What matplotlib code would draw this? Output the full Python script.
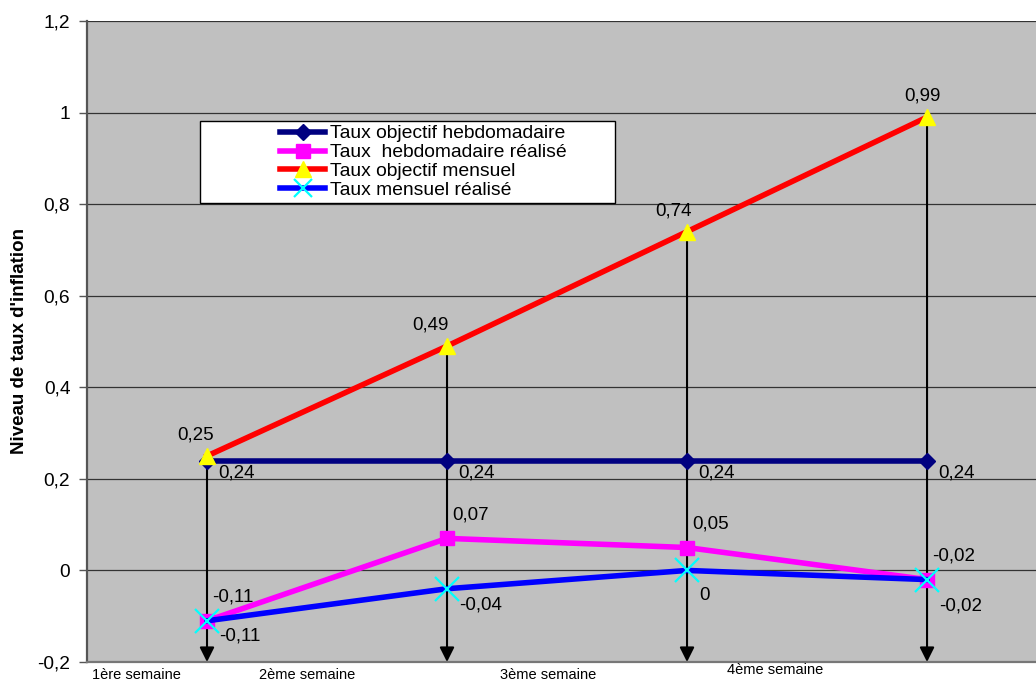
import matplotlib
matplotlib.use("Agg")
import matplotlib.pyplot as plt
from matplotlib.lines import Line2D
from matplotlib.patches import Rectangle
from matplotlib.ticker import FuncFormatter
import matplotlib.transforms as mtransforms

plt.rcParams["font.family"] = ["Liberation Sans", "DejaVu Sans"]

# Données
semaines = ["1ère semaine", "2ème semaine", "3ème semaine", "4ème semaine"]
objectif_hebdo = [0.24, 0.24, 0.24, 0.24]
hebdo_realise = [-0.11, 0.07, 0.05, -0.02]
objectif_mensuel = [0.25, 0.49, 0.74, 0.99]
mensuel_realise = [-0.11, -0.04, 0.0, -0.02]
y_ticks = [-0.2, 0, 0.2, 0.4, 0.6, 0.8, 1.0, 1.2]

x = list(range(len(semaines)))

fig = plt.figure(figsize=(10.36, 6.82), dpi=100)
ax = fig.add_axes([87 / 1036, 20 / 682, 1 - 87 / 1036, 641 / 682])
ax.set_facecolor("#C0C0C0")
ax.set_xlim(-0.5, 3.454)
ax.set_ylim(-0.2, 1.2)

def fmt(v, pos=None):
    s = f"{v:.2f}".rstrip("0").rstrip(".")
    if s in ("-0", "0.0"):
        s = "0"
    return s.replace(".", ",")

ax.set_yticks(y_ticks)
ax.yaxis.set_major_formatter(FuncFormatter(fmt))
ax.set_xticks([])
ax.tick_params(axis="y", length=6, width=1, color="#555555", labelsize=13.8, pad=6)
ax.grid(axis="y", color="#333333", linewidth=0.9)
ax.set_axisbelow(True)
for side in ("top", "right"):
    ax.spines[side].set_visible(False)
ax.spines["left"].set_color("#555555")
ax.spines["left"].set_linewidth(1.6)
ax.spines["bottom"].set_color("#777777")
ax.spines["bottom"].set_linewidth(1.6)

ax.set_ylabel("Niveau de taux d'inflation", fontsize=13.5, fontweight="bold", labelpad=7)

# lignes de rappel vers l'axe
for xi, v in zip(x, objectif_mensuel):
    ax.annotate("", xy=(xi, -0.2), xytext=(xi, v),
                arrowprops=dict(arrowstyle="-|>", color="black", lw=1.5,
                                mutation_scale=22, shrinkA=0, shrinkB=0),
                zorder=2)

ax.plot(x, objectif_hebdo, color="#000080", lw=4, marker="D", ms=8,
        mfc="#000080", mec="#000080", zorder=3)
ax.plot(x, hebdo_realise, color="#FF00FF", lw=4, marker="s", ms=10,
        mfc="#FF00FF", mec="#FF00FF", zorder=4)
ax.plot(x, objectif_mensuel, color="#FF0000", lw=4, marker="^", ms=11,
        mfc="#FFFF00", mec="#FFFF00", zorder=5)
ax.plot(x, mensuel_realise, color="#0000FF", lw=4, marker="x", ms=17,
        mew=1.6, mec="#00FFFF", zorder=6)

# étiquettes de valeurs
lbl = dict(fontsize=13.5, textcoords="offset points", zorder=7)
red_dx = [-8, -12, -10, -3]
for xi, v, dx in zip(x, objectif_mensuel, red_dx):
    ax.annotate(fmt(v), (xi, v), xytext=(dx, 15), ha="center", va="center", **lbl)
for xi, v in zip(x, objectif_hebdo):
    ax.annotate(fmt(v), (xi, v), xytext=(8, -9), ha="left", va="center", **lbl)
for xi, v in zip(x, hebdo_realise):
    ax.annotate(fmt(v), (xi, v), xytext=(4, 17), ha="left", va="center", **lbl)
blue_dy = [-11, -12, -18, -19]
for xi, v, dy in zip(x, mensuel_realise, blue_dy):
    ax.annotate(fmt(v), (xi, v), xytext=(9, dy), ha="left", va="center", **lbl)

# noms des semaines sous l'axe
trans = mtransforms.blended_transform_factory(ax.transData, ax.transAxes)
sem_x = [-0.294, 0.417, 1.42, 2.367]
sem_y = [-0.02, -0.02, -0.02, -0.013]
for sx, sy, s in zip(sem_x, sem_y, semaines):
    ax.text(sx, sy, s, transform=trans, ha="center", va="center",
            fontsize=10.5, clip_on=False)

# légende
ax.add_patch(Rectangle((0.119, 0.716), 0.437, 0.128, transform=ax.transAxes,
                       facecolor="white", edgecolor="black", lw=1, zorder=8))
handles = [
    Line2D([], [], color="#000080", lw=4, marker="D", ms=8, mfc="#000080", mec="#000080"),
    Line2D([], [], color="#FF00FF", lw=4, marker="s", ms=10, mfc="#FF00FF", mec="#FF00FF"),
    Line2D([], [], color="#FF0000", lw=4, marker="^", ms=11, mfc="#FFFF00", mec="#FFFF00"),
    Line2D([], [], color="#0000FF", lw=4, marker="x", ms=13, mew=1.6, mec="#00FFFF"),
]
labels = ["Taux objectif hebdomadaire", "Taux  hebdomadaire réalisé",
          "Taux objectif mensuel", "Taux mensuel réalisé"]
leg = ax.legend(handles, labels, loc="center", bbox_to_anchor=(0.3546, 0.78),
                bbox_transform=ax.transAxes, frameon=False, fontsize=13.9,
                handlelength=2.33, handletextpad=0.26, labelspacing=0.07,
                borderpad=0)
leg.set_zorder(9)

fig.savefig("out.png", dpi=100)
